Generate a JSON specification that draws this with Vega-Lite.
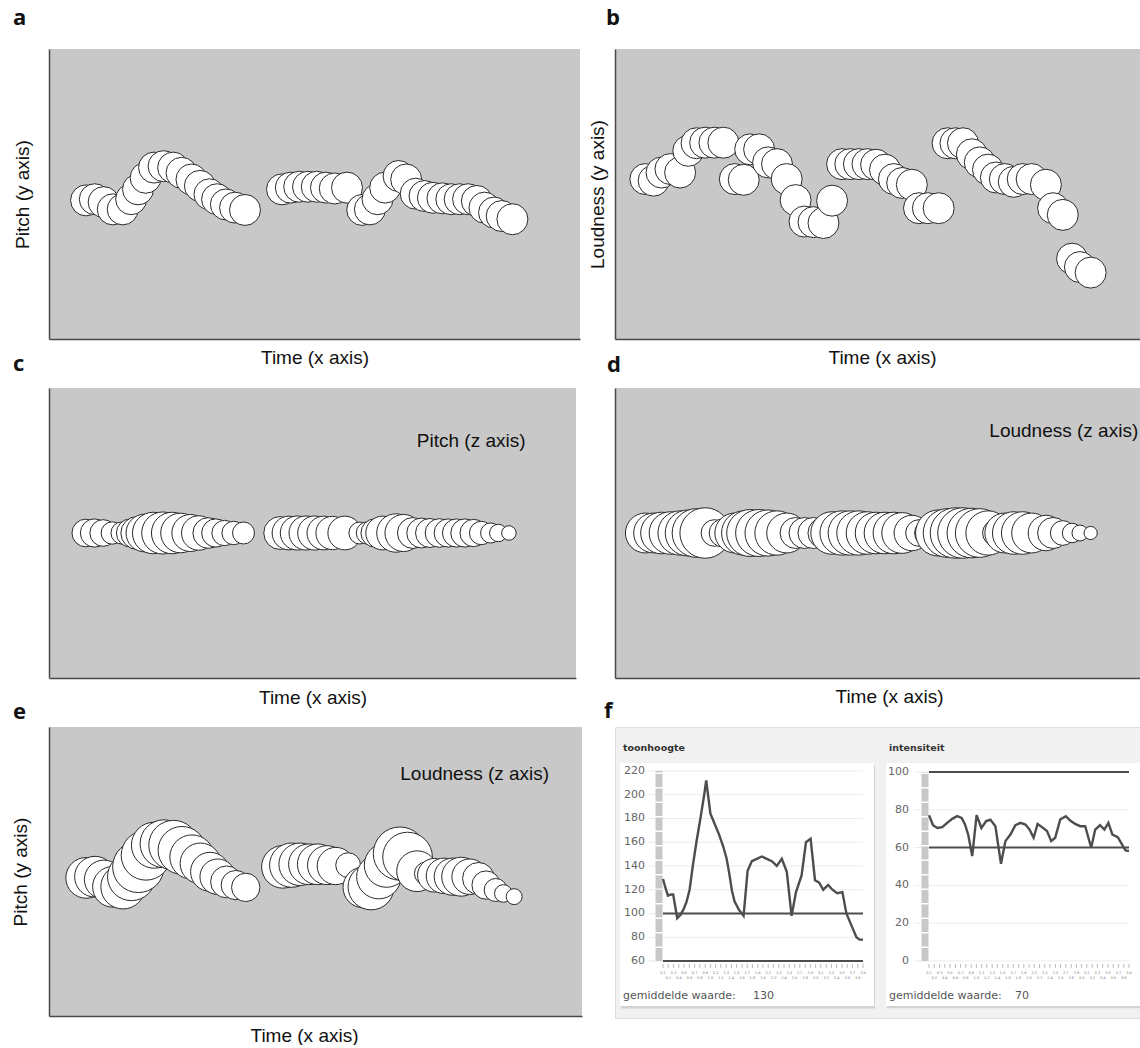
{
  "$schema": "https://vega.github.io/schema/vega-lite/v6.json",
  "padding": {"left": 11, "top": 7, "right": 0, "bottom": 0},
  "background": "white",
  "datasets": {
    "pitch": [
      {"t":6.98,"p":47.8,"l":51},{"t":8.63,"p":48.2,"l":51},{"t":10.29,"p":47.2,"l":48.3},{"t":12.01,"p":44.7,"l":51},
      {"t":13.88,"p":44.7,"l":56.7},{"t":15.47,"p":48.2,"l":62.9},{"t":16.76,"p":51.6,"l":69.5},{"t":18.2,"p":55.6,"l":66.2},
      {"t":19.78,"p":59.1,"l":59.7},{"t":21.58,"p":59.6,"l":62.9},{"t":23.38,"p":59.1,"l":66.2},{"t":24.96,"p":57.3,"l":62.9},
      {"t":26.83,"p":55.0,"l":56.7},{"t":28.42,"p":52.8,"l":51},{"t":30.22,"p":49.9,"l":48.3},{"t":31.65,"p":48.2,"l":43.4},
      {"t":33.31,"p":46.4,"l":38.8},{"t":35.04,"p":45.3,"l":35.8},{"t":36.91,"p":44.5,"l":34.8},
      {"t":43.88,"p":51.6,"l":53.8},{"t":45.54,"p":52.2,"l":56.7},{"t":47.12,"p":52.5,"l":53.8},{"t":48.78,"p":52.5,"l":51},
      {"t":50.43,"p":52.5,"l":51},{"t":52.16,"p":52.2,"l":48.3},{"t":53.81,"p":51.9,"l":45.8},{"t":56.12,"p":52.2,"l":31.2},
      {"t":58.99,"p":44.5,"l":51},{"t":60.43,"p":44.7,"l":59.7},{"t":61.87,"p":48.2,"l":56.7},{"t":63.31,"p":52.2,"l":56.7},
      {"t":65.83,"p":56.2,"l":73},{"t":67.27,"p":55.0,"l":66.2},{"t":69.06,"p":50.1,"l":51},{"t":70.72,"p":49.3,"l":29.6},
      {"t":72.3,"p":48.7,"l":41},{"t":74.1,"p":48.5,"l":43.4},{"t":75.76,"p":48.2,"l":45.8},{"t":77.34,"p":48.2,"l":48.3},
      {"t":78.92,"p":48.2,"l":43.4},{"t":80.58,"p":47.6,"l":38.8},{"t":82.01,"p":45.3,"l":34.8},{"t":83.81,"p":43.6,"l":29.6},
      {"t":85.25,"p":42.4,"l":25.5},{"t":87.27,"p":41.3,"l":24.4}
    ],
    "loud": [
      {"t":5.79,"l":55.15,"z":49.7},{"t":7.36,"l":54.6,"z":49.7},{"t":8.86,"l":57.4,"z":52.4},{"t":10.56,"l":58.6,"z":53.8},{"t":12.4,"l":57.4,"z":56.7},{"t":13.96,"l":64.9,"z":59.8},
      {"t":15.53,"l":67.5,"z":64.5},{"t":17.17,"l":67.7,"z":67.8},{"t":18.94,"l":67.7,"z":33.0},{"t":20.64,"l":67.7,"z":34.8},{"t":22.82,"l":55.15,"z":49.7},{"t":24.52,"l":54.9,"z":56.7},
      {"t":25.75,"l":65.4,"z":61.3},{"t":27.45,"l":65.4,"z":61.3},{"t":29.16,"l":60.9,"z":59.8},{"t":30.86,"l":60.3,"z":56.7},{"t":32.7,"l":55.15,"z":49.7},{"t":34.4,"l":47.9,"z":37.8},
      {"t":36.1,"l":40.5,"z":37.8},{"t":37.81,"l":40.3,"z":37.8},{"t":39.71,"l":40.0,"z":37.8},{"t":41.35,"l":47.7,"z":53.8},
      {"t":43.26,"l":60.3,"z":56.7},{"t":44.82,"l":60.3,"z":56.7},{"t":46.46,"l":60.3,"z":56.7},{"t":48.09,"l":60.3,"z":53.8},{"t":49.73,"l":60.1,"z":52.4},{"t":51.43,"l":58.4,"z":52.4},
      {"t":53.13,"l":55.15,"z":52.4},{"t":54.7,"l":53.8,"z":51.0},{"t":56.54,"l":53.2,"z":43.4},{"t":57.9,"l":45.1,"z":33.0},{"t":59.6,"l":45.1,"z":33.0},{"t":61.65,"l":45.1,"z":59.8},
      {"t":63.35,"l":67.5,"z":64.5},{"t":64.85,"l":67.5,"z":67.8},{"t":66.28,"l":67.5,"z":67.8},{"t":67.98,"l":63.7,"z":66.2},{"t":69.48,"l":60.9,"z":64.5},{"t":71.05,"l":58.4,"z":56.7},
      {"t":72.55,"l":55.7,"z":33.0},{"t":74.25,"l":55.15,"z":49.7},{"t":75.95,"l":54.2,"z":53.8},{"t":77.66,"l":55.15,"z":53.8},{"t":79.36,"l":55.15,"z":49.7},{"t":82.08,"l":53.2,"z":43.4},
      {"t":83.45,"l":45.1,"z":37.8},{"t":85.29,"l":42.8,"z":31.2},{"t":87.06,"l":27.7,"z":26.8},{"t":88.56,"l":24.8,"z":24.4},{"t":90.6,"l":22.9,"z":22.9}
    ],
    "toon": [
      {"t":0,"v":129},{"t":1.5,"v":120},{"t":2.5,"v":115},{"t":4.1,"v":116},{"t":5.1,"v":116},{"t":7.1,"v":96},{"t":8.8,"v":99},
      {"t":10.4,"v":104},{"t":11.8,"v":110},{"t":13.3,"v":120},{"t":14.9,"v":140},{"t":16.7,"v":160},{"t":18.7,"v":180},{"t":20.6,"v":200},
      {"t":21.6,"v":212},{"t":23.7,"v":184},{"t":25.7,"v":176},{"t":27.9,"v":167},{"t":30.0,"v":157},{"t":31.7,"v":147},{"t":33.0,"v":135},
      {"t":34.5,"v":119},{"t":35.8,"v":110},{"t":38.0,"v":103},{"t":40.3,"v":98},{"t":42.3,"v":136},{"t":44.4,"v":144},{"t":46.9,"v":146},
      {"t":49.4,"v":148},{"t":51.9,"v":146},{"t":54.4,"v":144},{"t":56.9,"v":140},{"t":59.4,"v":146},{"t":61.9,"v":135},{"t":64.3,"v":98},
      {"t":66.5,"v":118},{"t":69.3,"v":132},{"t":71.5,"v":160},{"t":73.8,"v":163},{"t":76.0,"v":128},{"t":78.1,"v":126},{"t":80.1,"v":120},
      {"t":82.6,"v":124},{"t":84.7,"v":120},{"t":87.1,"v":117},{"t":89.7,"v":118},{"t":91.7,"v":100},{"t":94.2,"v":90},{"t":96.7,"v":80},
      {"t":98.3,"v":78},{"t":100,"v":78}
    ],
    "inten": [
      {"t":0,"v":77.1},{"t":2.0,"v":71.8},{"t":4.2,"v":70.4},{"t":6.6,"v":70.8},{"t":9.1,"v":73.1},{"t":11.6,"v":75.2},{"t":14.1,"v":76.6},
      {"t":16.3,"v":75.7},{"t":17.9,"v":72.5},{"t":19.6,"v":66.9},{"t":21.6,"v":55.5},{"t":23.8,"v":77.1},{"t":26.2,"v":70.4},{"t":28.6,"v":74.0},
      {"t":30.7,"v":74.8},{"t":33.2,"v":71.3},{"t":36.0,"v":51.4},{"t":38.2,"v":63.4},{"t":40.7,"v":66.9},{"t":43.2,"v":71.8},{"t":45.7,"v":73.1},
      {"t":48.2,"v":72.2},{"t":50.3,"v":69.5},{"t":52.3,"v":65.2},{"t":54.3,"v":72.5},{"t":56.5,"v":70.8},{"t":59.0,"v":68.7},{"t":61.1,"v":63.4},
      {"t":63.1,"v":65.2},{"t":65.6,"v":74.8},{"t":68.4,"v":76.6},{"t":70.6,"v":74.3},{"t":73.1,"v":72.5},{"t":75.6,"v":71.3},{"t":78.1,"v":71.3},
      {"t":81.1,"v":59.9},{"t":83.1,"v":69.5},{"t":85.5,"v":71.8},{"t":87.7,"v":69.5},{"t":89.7,"v":73.1},{"t":91.7,"v":66.9},{"t":94.4,"v":65.5},
      {"t":96.7,"v":61.3},{"t":98.3,"v":58.5},{"t":100,"v":58.1}
    ],
    "toonAx": [{"v":60},{"v":80},{"v":100},{"v":120},{"v":140},{"v":160},{"v":180},{"v":200},{"v":220}],
    "intAx": [{"v":0},{"v":20},{"v":40},{"v":60},{"v":80},{"v":100}],
    "fticks": [
      {"t":0},{"t":2.6},{"t":5.3},{"t":7.9},{"t":10.5},{"t":13.2},{"t":15.8},{"t":18.4},{"t":21.1},{"t":23.7},{"t":26.3},{"t":28.9},{"t":31.6},
      {"t":34.2},{"t":36.8},{"t":39.5},{"t":42.1},{"t":44.7},{"t":47.4},{"t":50},{"t":52.6},{"t":55.3},{"t":57.9},{"t":60.5},{"t":63.2},{"t":65.8},
      {"t":68.4},{"t":71.1},{"t":73.7},{"t":76.3},{"t":78.9},{"t":81.6},{"t":84.2},{"t":86.8},{"t":89.5},{"t":92.1},{"t":94.7},{"t":97.4},{"t":100}
    ],
    "flabA": [
      {"t":0,"a":"0.1"},{"t":5.3,"a":"0.3"},{"t":10.5,"a":"0.5"},{"t":15.8,"a":"0.7"},{"t":21.1,"a":"0.9"},{"t":26.3,"a":"1.1"},{"t":31.6,"a":"1.3"},
      {"t":36.8,"a":"1.5"},{"t":42.1,"a":"1.7"},{"t":47.4,"a":"1.9"},{"t":52.6,"a":"2.1"},{"t":57.9,"a":"2.3"},{"t":63.2,"a":"2.5"},{"t":68.4,"a":"2.7"},
      {"t":73.7,"a":"2.9"},{"t":78.9,"a":"3.1"},{"t":84.2,"a":"3.3"},{"t":89.5,"a":"3.5"},{"t":94.7,"a":"3.7"},{"t":100,"a":"3.9"}
    ],
    "flabB": [
      {"t":2.6,"b":"0.2"},{"t":7.9,"b":"0.4"},{"t":13.2,"b":"0.6"},{"t":18.4,"b":"0.8"},{"t":23.7,"b":"1.0"},{"t":28.9,"b":"1.2"},{"t":34.2,"b":"1.4"},
      {"t":39.5,"b":"1.6"},{"t":44.7,"b":"1.8"},{"t":50,"b":"2.0"},{"t":55.3,"b":"2.2"},{"t":60.5,"b":"2.4"},{"t":65.8,"b":"2.6"},{"t":71.1,"b":"2.8"},
      {"t":76.3,"b":"3.0"},{"t":81.6,"b":"3.2"},{"t":86.8,"b":"3.4"},{"t":92.1,"b":"3.6"},{"t":97.4,"b":"3.8"}
    ]
  },
  "bounds": "flush",
  "columns": 2,
  "spacing": {"row": 49, "column": 33},
  "resolve": {"scale": {"size": "independent"}, "legend": {"size": "independent"}},
  "concat": [
    {
      "width": 531, "height": 290,
      "title": {"text": "a", "dx": -36, "offset": 19},
      "data": {"name": "pitch"},
      "mark": {"type": "circle", "size": 960, "fill": "white", "stroke": "#2a2a2a", "strokeWidth": 1, "opacity": 1},
      "encoding": {
        "x": {"field": "t", "type": "quantitative", "scale": {"domain": [0, 100], "nice": false, "zero": false}, "axis": {"title": "Time (x axis)", "titlePadding": 9}},
        "y": {"field": "p", "type": "quantitative", "scale": {"domain": [0, 100], "nice": false, "zero": false}, "axis": {"title": "Pitch (y axis)", "titlePadding": 17}}
      }
    },
    {
      "width": 525, "height": 290,
      "title": {"text": "b", "dx": -9, "offset": 19},
      "data": {"name": "loud"},
      "mark": {"type": "circle", "size": 960, "fill": "white", "stroke": "#2a2a2a", "strokeWidth": 1, "opacity": 1},
      "encoding": {
        "x": {"field": "t", "type": "quantitative", "scale": {"domain": [0, 100], "nice": false, "zero": false}, "axis": {"title": "Time (x axis)", "titlePadding": 9, "titleX": 267}},
        "y": {"field": "l", "type": "quantitative", "scale": {"domain": [0, 100], "nice": false, "zero": false}, "axis": {"title": "Loudness (y axis)", "titlePadding": 8}}
      }
    },
    {
      "width": 527, "height": 290,
      "title": {"text": "c", "dx": -36, "offset": 12},
      "layer": [
        {
          "data": {"name": "pitch"},
          "mark": {"type": "circle", "fill": "white", "stroke": "#2a2a2a", "strokeWidth": 1, "opacity": 1},
          "encoding": {
            "x": {"field": "t", "type": "quantitative", "scale": {"domain": [0, 100], "nice": false, "zero": false}, "axis": {"title": "Time (x axis)", "titlePadding": 10}},
            "y": {"datum": 50, "type": "quantitative", "scale": {"domain": [0, 100], "nice": false, "zero": false}, "axis": {"title": null}},
            "size": {"field": "p", "type": "quantitative", "scale": {"domain": [40, 60], "range": [100, 1800], "zero": false, "nice": false}, "legend": null}
          }
        },
        {
          "data": {"values": [{"label": "Pitch (z axis)"}]},
          "mark": {"type": "text", "align": "left", "baseline": "middle", "font": "Liberation Sans", "fontSize": 19, "color": "#111"},
          "encoding": {
            "x": {"datum": 69.8, "type": "quantitative"},
            "y": {"datum": 81.7, "type": "quantitative"},
            "text": {"field": "label"}
          }
        }
      ]
    },
    {
      "width": 525, "height": 290,
      "title": {"text": "d", "dx": -8, "offset": 11},
      "layer": [
        {
          "data": {"name": "loud"},
          "mark": {"type": "circle", "fill": "white", "stroke": "#2a2a2a", "strokeWidth": 1, "opacity": 1},
          "encoding": {
            "x": {"field": "t", "type": "quantitative", "scale": {"domain": [0, 100], "nice": false, "zero": false}, "axis": {"title": "Time (x axis)", "titlePadding": 9, "titleX": 274}},
            "y": {"datum": 50, "type": "quantitative", "scale": {"domain": [0, 100], "nice": false, "zero": false}, "axis": {"title": null}},
            "size": {"field": "z", "type": "quantitative", "scale": {"domain": [20, 75], "range": [21, 2931], "zero": false, "nice": false}, "legend": null}
          }
        },
        {
          "data": {"values": [{"label": "Loudness (z axis)"}]},
          "mark": {"type": "text", "align": "left", "baseline": "middle", "font": "Liberation Sans", "fontSize": 19, "color": "#111"},
          "encoding": {
            "x": {"datum": 71.3, "type": "quantitative"},
            "y": {"datum": 85.2, "type": "quantitative"},
            "text": {"field": "label"}
          }
        }
      ]
    },
    {
      "width": 533, "height": 289,
      "title": {"text": "e", "dx": -36, "offset": 3},
      "layer": [
        {
          "data": {"name": "pitch"},
          "mark": {"type": "circle", "fill": "white", "stroke": "#2a2a2a", "strokeWidth": 1, "opacity": 1},
          "encoding": {
            "x": {"field": "t", "type": "quantitative", "scale": {"domain": [0, 100], "nice": false, "zero": false}, "axis": {"title": "Time (x axis)", "titlePadding": 10, "titleX": 255}},
            "y": {"field": "p", "type": "quantitative", "scale": {"domain": [0, 100], "nice": false, "zero": false}, "axis": {"title": "Pitch (y axis)", "titlePadding": 19}},
            "size": {"field": "l", "type": "quantitative", "scale": {"domain": [20, 75], "range": [21, 2931], "zero": false, "nice": false}, "legend": null}
          }
        },
        {
          "data": {"values": [{"label": "Loudness (z axis)"}]},
          "mark": {"type": "text", "align": "left", "baseline": "middle", "font": "Liberation Sans", "fontSize": 19, "color": "#111"},
          "encoding": {
            "x": {"datum": 65.9, "type": "quantitative"},
            "y": {"datum": 83.7, "type": "quantitative"},
            "text": {"field": "label"}
          }
        }
      ]
    },
    {
      "width": 525, "height": 291,
      "view": {"fill": "#f1f1f1", "stroke": "#dedede"},
      "title": {"text": "f", "dx": -11, "offset": 4},
      "resolve": {"scale": {"x": "independent", "y": "independent"}},
      "layer": [
        {
          "layer": [
            {
              "data": {"values": [{}]},
              "mark": {"type": "rect", "fill": "#d2d2d2"},
              "encoding": {
                "x": {"datum": -21, "type": "quantitative", "scale": {"domain": [-24, 238.5], "nice": false, "zero": false}, "axis": null},
                "x2": {"datum": 106},
                "y": {"datum": 20.0, "type": "quantitative", "scale": {"domain": [12, 257], "nice": false, "zero": false}, "axis": null},
                "y2": {"datum": 224.9}
              }
            },
            {
              "data": {"values": [{}]},
              "mark": {"type": "rect", "fill": "white"},
              "encoding": {
                "x": {"datum": -21.5, "type": "quantitative", "scale": {"domain": [-24, 238.5], "nice": false, "zero": false}, "axis": null},
                "x2": {"datum": 105.5},
                "y": {"datum": 22.1, "type": "quantitative", "scale": {"domain": [12, 257], "nice": false, "zero": false}, "axis": null},
                "y2": {"datum": 226.7}
              }
            },
            {
              "data": {"name": "toonAx"},
              "mark": {"type": "rule", "color": "#ececec", "strokeWidth": 1},
              "encoding": {
                "x": {"datum": -7.5, "type": "quantitative", "scale": {"domain": [-24, 238.5], "nice": false, "zero": false}, "axis": null},
                "x2": {"datum": 100},
                "y": {"field": "v", "type": "quantitative", "scale": {"domain": [12, 257], "nice": false, "zero": false}, "axis": null}
              }
            },
            {
              "data": {"values": [{}]},
              "mark": {"type": "rule", "color": "#c8c8c8", "strokeWidth": 7, "strokeDash": [13, 1.5]},
              "encoding": {
                "x": {"datum": -2, "type": "quantitative", "scale": {"domain": [-24, 238.5], "nice": false, "zero": false}, "axis": null},
                "y": {"datum": 60, "type": "quantitative", "scale": {"domain": [12, 257], "nice": false, "zero": false}, "axis": null},
                "y2": {"datum": 220}
              }
            },
            {
              "data": {"name": "toonAx"},
              "mark": {"type": "text", "align": "right", "baseline": "middle", "font": "DejaVu Sans", "fontSize": 11, "color": "#666"},
              "encoding": {
                "x": {"datum": -9, "type": "quantitative", "scale": {"domain": [-24, 238.5], "nice": false, "zero": false}, "axis": null},
                "y": {"field": "v", "type": "quantitative", "scale": {"domain": [12, 257], "nice": false, "zero": false}, "axis": null},
                "text": {"field": "v"}
              }
            },
            {
              "data": {"values": [{"v": 60}, {"v": 100}]},
              "mark": {"type": "rule", "color": "#4d4d4d", "strokeWidth": 2.2},
              "encoding": {
                "x": {"datum": 0, "type": "quantitative", "scale": {"domain": [-24, 238.5], "nice": false, "zero": false}, "axis": null},
                "x2": {"datum": 100},
                "y": {"field": "v", "type": "quantitative", "scale": {"domain": [12, 257], "nice": false, "zero": false}, "axis": null}
              }
            },
            {
              "data": {"name": "toon"},
              "mark": {"type": "line", "color": "#4d4d4d", "strokeWidth": 2.4},
              "encoding": {
                "x": {"field": "t", "type": "quantitative", "scale": {"domain": [-24, 238.5], "nice": false, "zero": false}, "axis": null},
                "y": {"field": "v", "type": "quantitative", "scale": {"domain": [12, 257], "nice": false, "zero": false}, "axis": null}
              }
            },
            {
              "data": {"name": "fticks"},
              "mark": {"type": "rule", "color": "#aaa", "strokeWidth": 0.8},
              "encoding": {
                "x": {"field": "t", "type": "quantitative", "scale": {"domain": [-24, 238.5], "nice": false, "zero": false}, "axis": null},
                "y": {"datum": 57.5, "type": "quantitative", "scale": {"domain": [12, 257], "nice": false, "zero": false}, "axis": null},
                "y2": {"datum": 54.1}
              }
            },
            {
              "data": {"name": "flabA"},
              "mark": {"type": "text", "font": "DejaVu Sans", "fontSize": 3.5, "color": "#777", "baseline": "middle"},
              "encoding": {
                "x": {"field": "t", "type": "quantitative", "scale": {"domain": [-24, 238.5], "nice": false, "zero": false}, "axis": null},
                "y": {"datum": 49.9, "type": "quantitative", "scale": {"domain": [12, 257], "nice": false, "zero": false}, "axis": null},
                "text": {"field": "a"}
              }
            },
            {
              "data": {"name": "flabB"},
              "mark": {"type": "text", "font": "DejaVu Sans", "fontSize": 3.5, "color": "#777", "baseline": "middle"},
              "encoding": {
                "x": {"field": "t", "type": "quantitative", "scale": {"domain": [-24, 238.5], "nice": false, "zero": false}, "axis": null},
                "y": {"datum": 45.7, "type": "quantitative", "scale": {"domain": [12, 257], "nice": false, "zero": false}, "axis": null},
                "text": {"field": "b"}
              }
            },
            {
              "data": {"values": [{"label": "toonhoogte"}]},
              "mark": {"type": "text", "align": "left", "baseline": "middle", "font": "DejaVu Sans", "fontSize": 9.5, "fontWeight": "bold", "color": "#333"},
              "encoding": {
                "x": {"datum": -20, "type": "quantitative", "scale": {"domain": [-24, 238.5], "nice": false, "zero": false}, "axis": null},
                "y": {"datum": 239.3, "type": "quantitative", "scale": {"domain": [12, 257], "nice": false, "zero": false}, "axis": null},
                "text": {"field": "label"}
              }
            },
            {
              "data": {"values": [{"label": "gemiddelde waarde:", "x": -20}, {"label": "130", "x": 45}]},
              "mark": {"type": "text", "align": "left", "baseline": "middle", "font": "DejaVu Sans", "fontSize": 11, "color": "#555"},
              "encoding": {
                "x": {"field": "x", "type": "quantitative", "scale": {"domain": [-24, 238.5], "nice": false, "zero": false}, "axis": null},
                "y": {"datum": 30.5, "type": "quantitative", "scale": {"domain": [12, 257], "nice": false, "zero": false}, "axis": null},
                "text": {"field": "label"}
              }
            }
          ]
        },
        {
          "layer": [
            {
              "data": {"values": [{}]},
              "mark": {"type": "rect", "fill": "#d2d2d2"},
              "encoding": {
                "x": {"datum": -21, "type": "quantitative", "scale": {"domain": [-157, 105.5], "nice": false, "zero": false}, "axis": null},
                "x2": {"datum": 106},
                "y": {"datum": -25.0, "type": "quantitative", "scale": {"domain": [-30.2, 123.8], "nice": false, "zero": false}, "axis": null},
                "y2": {"datum": 103.7}
              }
            },
            {
              "data": {"values": [{}]},
              "mark": {"type": "rect", "fill": "white"},
              "encoding": {
                "x": {"datum": -21.5, "type": "quantitative", "scale": {"domain": [-157, 105.5], "nice": false, "zero": false}, "axis": null},
                "x2": {"datum": 106},
                "y": {"datum": -23.8, "type": "quantitative", "scale": {"domain": [-30.2, 123.8], "nice": false, "zero": false}, "axis": null},
                "y2": {"datum": 104.8}
              }
            },
            {
              "data": {"name": "intAx"},
              "mark": {"type": "rule", "color": "#ececec", "strokeWidth": 1},
              "encoding": {
                "x": {"datum": -7.5, "type": "quantitative", "scale": {"domain": [-157, 105.5], "nice": false, "zero": false}, "axis": null},
                "x2": {"datum": 100},
                "y": {"field": "v", "type": "quantitative", "scale": {"domain": [-30.2, 123.8], "nice": false, "zero": false}, "axis": null}
              }
            },
            {
              "data": {"values": [{}]},
              "mark": {"type": "rule", "color": "#c8c8c8", "strokeWidth": 7, "strokeDash": [13, 1.5]},
              "encoding": {
                "x": {"datum": -2, "type": "quantitative", "scale": {"domain": [-157, 105.5], "nice": false, "zero": false}, "axis": null},
                "y": {"datum": 0, "type": "quantitative", "scale": {"domain": [-30.2, 123.8], "nice": false, "zero": false}, "axis": null},
                "y2": {"datum": 100}
              }
            },
            {
              "data": {"name": "intAx"},
              "mark": {"type": "text", "align": "right", "baseline": "middle", "font": "DejaVu Sans", "fontSize": 11, "color": "#666"},
              "encoding": {
                "x": {"datum": -10, "type": "quantitative", "scale": {"domain": [-157, 105.5], "nice": false, "zero": false}, "axis": null},
                "y": {"field": "v", "type": "quantitative", "scale": {"domain": [-30.2, 123.8], "nice": false, "zero": false}, "axis": null},
                "text": {"field": "v"}
              }
            },
            {
              "data": {"values": [{"v": 60}, {"v": 100}]},
              "mark": {"type": "rule", "color": "#4d4d4d", "strokeWidth": 2},
              "encoding": {
                "x": {"datum": 0, "type": "quantitative", "scale": {"domain": [-157, 105.5], "nice": false, "zero": false}, "axis": null},
                "x2": {"datum": 100},
                "y": {"field": "v", "type": "quantitative", "scale": {"domain": [-30.2, 123.8], "nice": false, "zero": false}, "axis": null}
              }
            },
            {
              "data": {"name": "inten"},
              "mark": {"type": "line", "color": "#4d4d4d", "strokeWidth": 2.4},
              "encoding": {
                "x": {"field": "t", "type": "quantitative", "scale": {"domain": [-157, 105.5], "nice": false, "zero": false}, "axis": null},
                "y": {"field": "v", "type": "quantitative", "scale": {"domain": [-30.2, 123.8], "nice": false, "zero": false}, "axis": null}
              }
            },
            {
              "data": {"name": "fticks"},
              "mark": {"type": "rule", "color": "#aaa", "strokeWidth": 0.8},
              "encoding": {
                "x": {"field": "t", "type": "quantitative", "scale": {"domain": [-157, 105.5], "nice": false, "zero": false}, "axis": null},
                "y": {"datum": -1.6, "type": "quantitative", "scale": {"domain": [-30.2, 123.8], "nice": false, "zero": false}, "axis": null},
                "y2": {"datum": -3.7}
              }
            },
            {
              "data": {"name": "flabA"},
              "mark": {"type": "text", "font": "DejaVu Sans", "fontSize": 3.5, "color": "#777", "baseline": "middle"},
              "encoding": {
                "x": {"field": "t", "type": "quantitative", "scale": {"domain": [-157, 105.5], "nice": false, "zero": false}, "axis": null},
                "y": {"datum": -6.3, "type": "quantitative", "scale": {"domain": [-30.2, 123.8], "nice": false, "zero": false}, "axis": null},
                "text": {"field": "a"}
              }
            },
            {
              "data": {"name": "flabB"},
              "mark": {"type": "text", "font": "DejaVu Sans", "fontSize": 3.5, "color": "#777", "baseline": "middle"},
              "encoding": {
                "x": {"field": "t", "type": "quantitative", "scale": {"domain": [-157, 105.5], "nice": false, "zero": false}, "axis": null},
                "y": {"datum": -9.0, "type": "quantitative", "scale": {"domain": [-30.2, 123.8], "nice": false, "zero": false}, "axis": null},
                "text": {"field": "b"}
              }
            },
            {
              "data": {"values": [{"label": "intensiteit"}]},
              "mark": {"type": "text", "align": "left", "baseline": "middle", "font": "DejaVu Sans", "fontSize": 9.5, "fontWeight": "bold", "color": "#333"},
              "encoding": {
                "x": {"datum": -20, "type": "quantitative", "scale": {"domain": [-157, 105.5], "nice": false, "zero": false}, "axis": null},
                "y": {"datum": 112.7, "type": "quantitative", "scale": {"domain": [-30.2, 123.8], "nice": false, "zero": false}, "axis": null},
                "text": {"field": "label"}
              }
            },
            {
              "data": {"values": [{"label": "gemiddelde waarde:", "x": -20}, {"label": "70", "x": 43}]},
              "mark": {"type": "text", "align": "left", "baseline": "middle", "font": "DejaVu Sans", "fontSize": 11, "color": "#555"},
              "encoding": {
                "x": {"field": "x", "type": "quantitative", "scale": {"domain": [-157, 105.5], "nice": false, "zero": false}, "axis": null},
                "y": {"datum": -18.5, "type": "quantitative", "scale": {"domain": [-30.2, 123.8], "nice": false, "zero": false}, "axis": null},
                "text": {"field": "label"}
              }
            }
          ]
        }
      ]
    }
  ],
  "config": {
    "view": {"fill": "#c8c8c8", "stroke": null},
    "axis": {"ticks": false, "labels": false, "grid": false, "domainColor": "#4a4a4a", "domainWidth": 1.5, "titleFont": "Liberation Sans", "titleFontSize": 19, "titleFontWeight": "normal", "titleColor": "#111"},
    "title": {"anchor": "start", "frame": "group", "fontSize": 22, "fontWeight": "bold", "font": "Open Sans", "baseline": "alphabetic", "color": "#111"}
  }
}
